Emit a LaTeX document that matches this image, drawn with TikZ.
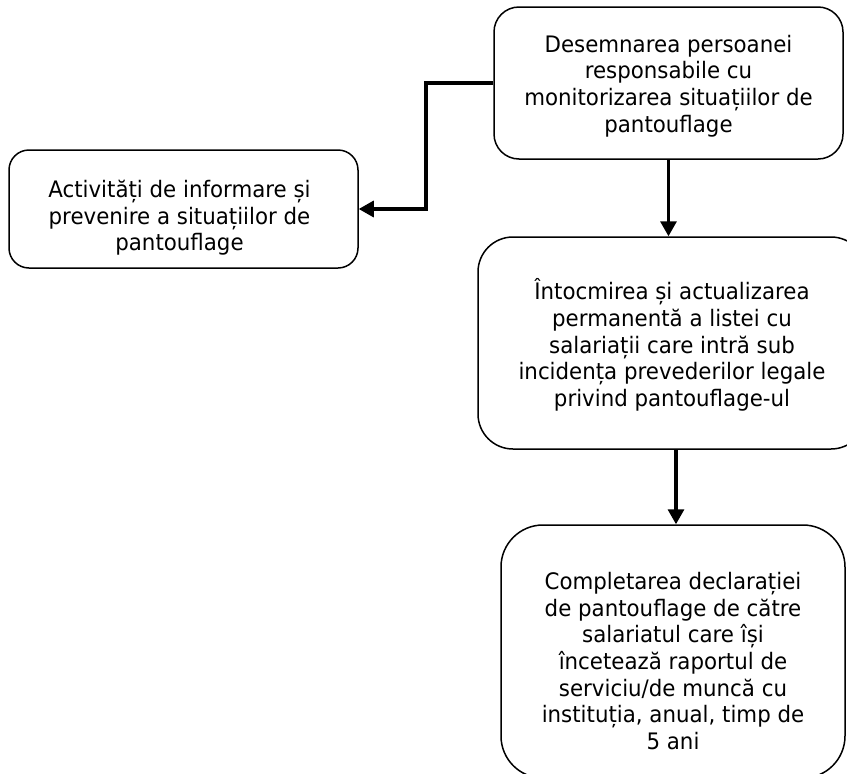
\documentclass[tikz,border=0pt]{standalone}
\usepackage{fontspec}
\setmainfont{DejaVu Sans}[FakeStretch=0.94]
\usetikzlibrary{arrows.meta,calc}
\begin{document}
\begin{tikzpicture}[x=1pt,y=1pt,
  box/.style={draw=black,line width=1.5pt,inner sep=0pt},
  txt/.style={align=center,font=\fontsize{22.7}{26.6}\selectfont,inner sep=0pt},
  conn/.style={line width=3.2pt,-{Triangle[length=15pt,width=16pt]}}]
\useasboundingbox (0,0) rectangle (847,-774);
\clip (0,0) rectangle (847,-774);
% boxes
\node[box,minimum width=349,minimum height=152,rounded corners=25] (b1) at (668.5,-83) {};
\node[box,minimum width=349,minimum height=118,rounded corners=20] (b2) at (183.5,-209) {};
\node[box,minimum width=388,minimum height=212,rounded corners=35] (b3) at (672,-343) {};
\node[box,minimum width=344,minimum height=253,rounded corners=42] (b4) at (673,-651.5) {};
% texts
\node[txt] (t1) at ($(b1.center)+(0,-3)$) {Desemnarea persoanei\\responsabile cu\\monitorizarea situațiilor de\\pantouflage};
\node[txt] (t2) at ($(b2.center)+(-4,-9)$) {Activități de informare și\\prevenire a situațiilor de\\pantouflage};
\node[txt] (t3) at ($(b3.center)+(0,-2)$) {Întocmirea și actualizarea\\permanentă a listei cu\\salariații care intră sub\\incidența prevederilor legale\\privind pantouflage-ul};
\node[txt] (t4) at ($(b4.center)+(0,-9.5)$) {Completarea declarației\\de pantouflage de către\\salariatul care își\\încetează raportul de\\serviciu/de muncă cu\\instituția, anual, timp de\\5 ani};
% connectors
\coordinate (bend) at (426,-83);
\draw[conn] (b1.west) -- (bend) |- (b2.east);
\draw[conn] (b1.south) -- (b1.south |- b3.north);
\draw[conn] ([xshift=4]b3.south) -- ([xshift=4]b3.south |- b4.north);
\end{tikzpicture}
\end{document}
